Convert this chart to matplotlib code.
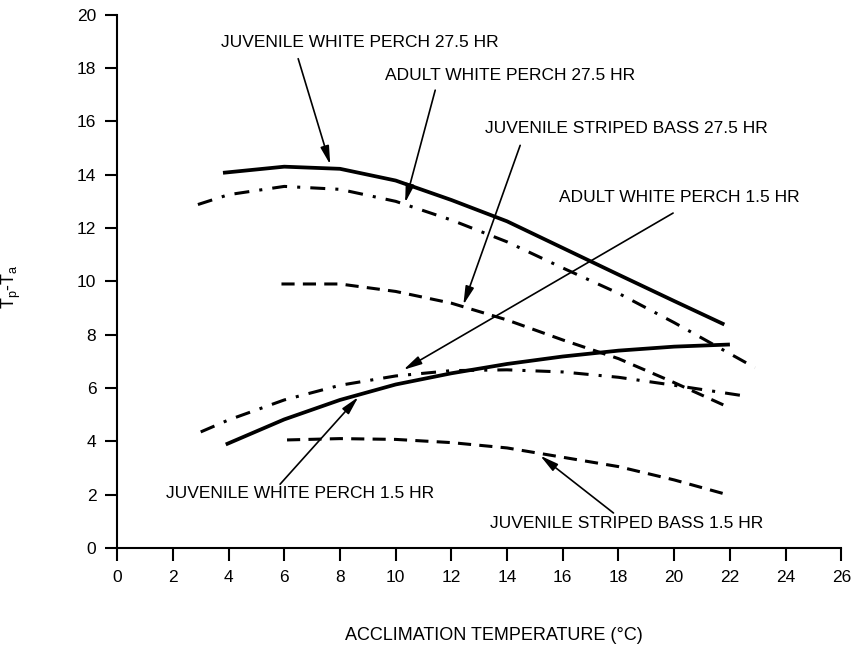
import matplotlib
matplotlib.use("Agg")
from matplotlib import pyplot as plt

plt.rcParams['font.family'] = ['Liberation Sans', 'DejaVu Sans']

# curves: acclimation temp (C) vs Tp-Ta
jwp27_x = [3.8, 6, 8, 10, 12, 14, 16, 18, 20, 21.8]
jwp27_y = [14.07, 14.3, 14.22, 13.78, 13.05, 12.25, 11.25, 10.25, 9.26, 8.38]

awp27_x = [2.9, 4, 6, 8, 10, 12, 14, 16, 18, 20, 22.9]
awp27_y = [12.88, 13.25, 13.56, 13.45, 13.0, 12.3, 11.48, 10.5, 9.55, 8.45, 6.76]

jsb27_x = [5.9, 8, 10, 12, 14, 16, 18, 20, 21.9]
jsb27_y = [9.9, 9.9, 9.62, 9.18, 8.55, 7.8, 7.1, 6.2, 5.3]

awp15_x = [3, 4, 6, 8, 10, 12, 14, 16, 18, 20, 22.4]
awp15_y = [4.35, 4.8, 5.55, 6.1, 6.45, 6.65, 6.68, 6.6, 6.4, 6.1, 5.72]

jwp15_x = [3.9, 6, 8, 10, 12, 14, 16, 18, 20, 22]
jwp15_y = [3.88, 4.82, 5.55, 6.13, 6.55, 6.9, 7.18, 7.4, 7.55, 7.63]

jsb15_x = [6.1, 8, 10, 12, 14, 16, 18, 20, 22]
jsb15_y = [4.05, 4.1, 4.07, 3.95, 3.75, 3.4, 3.05, 2.55, 1.97]

labels = ["JUVENILE WHITE PERCH 27.5 HR",
          "ADULT WHITE PERCH 27.5 HR",
          "JUVENILE STRIPED BASS 27.5 HR",
          "ADULT WHITE PERCH 1.5 HR",
          "JUVENILE WHITE PERCH 1.5 HR",
          "JUVENILE STRIPED BASS 1.5 HR"]

xticks = list(range(0, 27, 2))
yticks = list(range(0, 21, 2))

fig = plt.figure(figsize=(8.55, 6.69), dpi=100)
ax = fig.add_axes([0.137, 0.181, 0.847, 0.797])

solid = dict(color="black", lw=2.7, solid_capstyle="butt")
dashed = dict(color="black", lw=2.2, dashes=(4.3, 2.7))
dashdot = dict(color="black", lw=2.2, dashes=(4.9, 3.3, 1.0, 3.3))

ax.plot(jwp27_x, jwp27_y, **solid)
ax.plot(awp27_x, awp27_y, **dashdot)
ax.plot(jsb27_x, jsb27_y, **dashed)
ax.plot(awp15_x, awp15_y, **dashdot)
ax.plot(jwp15_x, jwp15_y, **solid)
ax.plot(jsb15_x, jsb15_y, **dashed)

# label text positions (left edge, centre) and arrow tail -> head
text_pos = [(3.73, 18.96), (9.62, 17.71), (13.21, 15.74),
            (15.87, 13.13), (1.76, 2.04), (13.39, 0.9)]
arrows = [((6.5, 18.35), (7.65, 14.38)),
          ((11.42, 17.17), (10.34, 12.95)),
          ((14.47, 15.1), (12.43, 9.12)),
          ((19.96, 12.56), (10.28, 6.68)),
          ((5.85, 2.39), (8.66, 5.66)),
          ((17.82, 1.31), (15.19, 3.46))]

for txt, (tx, ty) in zip(labels, text_pos):
    ax.text(tx, ty, txt, fontsize=12.5, ha="left", va="center")

for tail, head in arrows:
    ax.annotate("", xy=head, xytext=tail,
                arrowprops=dict(arrowstyle="-|>,head_length=0.55,head_width=0.13",
                                mutation_scale=20, lw=1.2, color="black",
                                shrinkA=0, shrinkB=0))

ax.set_xlim(0, 26)
ax.set_ylim(0, 20)
ax.set_xticks(xticks)
ax.set_yticks(yticks)
ax.spines["top"].set_visible(False)
ax.spines["right"].set_visible(False)
ax.spines["left"].set_linewidth(1.5)
ax.spines["bottom"].set_linewidth(1.5)
ax.tick_params(axis="both", direction="out", length=9, width=1.5, labelsize=12.5)
ax.tick_params(axis="x", pad=7)
ax.tick_params(axis="y", pad=6)

ax.set_xlabel("ACCLIMATION TEMPERATURE (°C)", fontsize=13)
ax.xaxis.set_label_coords(0.52, -0.148)
ax.set_ylabel(r"T$_\mathregular{p}$-T$_\mathregular{a}$", fontsize=13)
ax.yaxis.set_label_coords(-0.13, 0.49)

fig.savefig("out.png", dpi=100)
